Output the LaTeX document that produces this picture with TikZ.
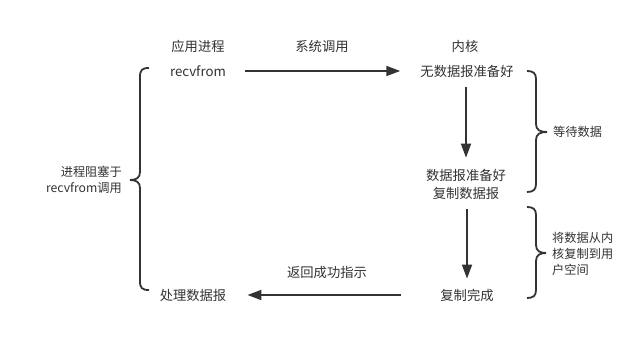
\documentclass[tikz,border=0pt]{standalone}
\usepackage{fontspec}
\setmainfont{Noto Sans CJK SC}
\usetikzlibrary{arrows.meta}
\definecolor{ink}{HTML}{333333}
\tikzset{
  lbl/.style={inner sep=0pt, text=ink, font=\fontsize{13.3}{18}\selectfont, align=center},
  side/.style={inner sep=0pt, text=ink, font=\fontsize{12.2}{16}\selectfont},
  arr/.style={draw=ink, line width=1.8pt, -{Triangle[length=14pt,width=10pt]}},
  bracestyle/.style={draw=ink, line width=1.8pt}
}
\begin{document}
\begin{tikzpicture}[x=1pt,y=-1pt]
\useasboundingbox[fill=white] (0,0) rectangle (642,344);
% nodes
\node[lbl] (app) at (198,46) {应用进程};
\node[lbl] (recv) at (198,71) {recvfrom};
\node[lbl] (sys) at (322,46) {系统调用};
\node[lbl] (kern) at (465,46) {内核};
\node[lbl] (nodata) at (467,71) {无数据报准备好};
\node[lbl] (ready) at (466,184) {数据报准备好\\复制数据报};
\node[lbl] (done) at (467,295) {复制完成};
\node[lbl] (ret) at (327,272) {返回成功指示};
\node[lbl] (proc) at (193,295) {处理数据报};
\node[side, anchor=east, align=right, font=\fontsize{12.2}{15.5}\selectfont] (block) at (122,180) {进程阻塞于\\recvfrom调用};
\node[side, anchor=west, align=left] (wait) at (553,132) {等待数据};
\node[side, anchor=west, align=left] (copy) at (552,254) {将数据从内\\核复制到用\\户空间};
% connectors
\draw[arr, shorten <=19pt, shorten >=20pt] (recv.east) -- (nodata.west);
\draw[arr, shorten <=10pt, shorten >=11pt] (ready.north |- nodata.south) -- (ready.north);
\draw[arr, shorten <=10pt, shorten >=10pt] (done.north |- ready.south) -- (done.north);
\draw[arr, shorten <=39pt, shorten >=21pt] (done.west) -- (proc.east);
% braces
\draw[bracestyle] (149,68) .. controls (142,68) and (140,70) .. (140,77) -- (140,172)
  .. controls (140,178) and (136,180) .. (130,180)
  .. controls (136,180) and (140,182) .. (140,188) -- (140,281)
  .. controls (140,288) and (142,290) .. (149,290);
\draw[bracestyle] (527,71) .. controls (533,71) and (536,73) .. (536,79) -- (536,124)
  .. controls (536,130) and (540,132) .. (547,132)
  .. controls (540,132) and (536,134) .. (536,140) -- (536,184)
  .. controls (536,190) and (533,192) .. (527,192);
\draw[bracestyle] (527,207) .. controls (533,207) and (536,209) .. (536,215) -- (536,245)
  .. controls (536,251) and (540,253) .. (546,253)
  .. controls (540,253) and (536,255) .. (536,261) -- (536,290)
  .. controls (536,296) and (533,298) .. (527,298);
\end{tikzpicture}
\end{document}
